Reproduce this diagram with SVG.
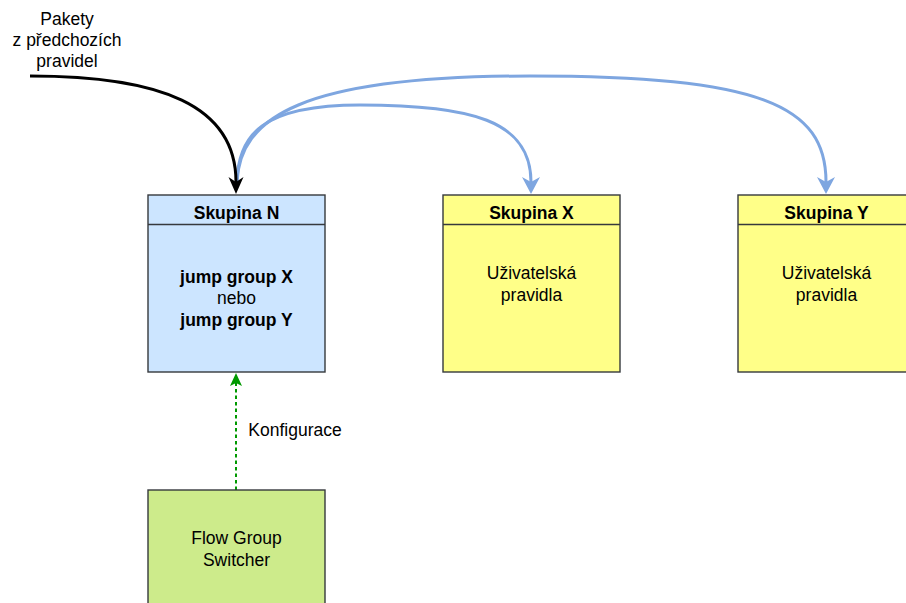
<svg xmlns="http://www.w3.org/2000/svg" width="906" height="603" viewBox="0 0 906 603">
  <style>
    text { font-family: "Liberation Sans", Arial, Helvetica, sans-serif; font-size: 17.5px; fill: #000; text-anchor: middle; dominant-baseline: central; }
    .b { font-weight: bold; }
    .box { stroke: #36393d; stroke-width: 1.4; }
    .blue { fill: #cce5ff; }
    .yellow { fill: #ffff88; }
    .green { fill: #cdeb8b; }
    .edge { fill: none; }
    .jump { stroke: #7ea6e0; stroke-width: 3; marker-end: url(#arrowBlue); }
  </style>
  <defs>
    <marker id="arrowBlack" markerUnits="userSpaceOnUse" markerWidth="20" markerHeight="20" viewBox="-6 -10 20 20" refX="0" refY="0" orient="auto" overflow="visible">
      <path d="M-5,-7.5 L12,0 L-5,7.5 L0,0 Z" fill="#000"/>
    </marker>
    <marker id="arrowBlue" markerUnits="userSpaceOnUse" markerWidth="20" markerHeight="22" viewBox="-6 -11 20 22" refX="0" refY="0" orient="auto" overflow="visible">
      <path d="M-5,-9 L12,0 L-5,9 L0,0 Z" fill="#7ea6e0"/>
    </marker>
    <marker id="arrowGreen" markerUnits="userSpaceOnUse" markerWidth="16" markerHeight="16" viewBox="-5 -8 16 16" refX="0" refY="0" orient="auto" overflow="visible">
      <path d="M-3,-6 L10,0 L-3,6 L0,0 Z" fill="#009900"/>
    </marker>
  </defs>

  <!-- connectors -->
  <g id="connectors" class="edge">
    <path class="jump" d="M237,182 C238,135 262,105 360,105 C470,105 531,120 531,182"/>
    <path class="jump" d="M237,182 C240,118 300,76 530,76 C760,76 826,105 826,182"/>
    <path d="M30,76 C160,76 236,105 236,182" stroke="#000" stroke-width="3" marker-end="url(#arrowBlack)"/>
    <path d="M236,490 L236,383" stroke="#009900" stroke-width="2" stroke-dasharray="3.5 3" marker-end="url(#arrowGreen)"/>
  </g>

  <!-- incoming packets label -->
  <g id="label-pakety">
    <text x="67" y="19">Pakety</text>
    <text x="67" y="40">z předchozích</text>
    <text x="67" y="61">pravidel</text>
  </g>

  <!-- group N -->
  <g id="skupina-n">
    <rect class="box blue" x="148" y="195" width="177" height="177"/>
    <line class="box" x1="148" y1="224.5" x2="325" y2="224.5"/>
    <text class="b" x="236.5" y="213">Skupina N</text>
    <text class="b" x="236.5" y="277">jump group X</text>
    <text x="236.5" y="298">nebo</text>
    <text class="b" x="236.5" y="320">jump group Y</text>
  </g>

  <!-- group X -->
  <g id="skupina-x">
    <rect class="box yellow" x="443" y="195" width="177" height="177"/>
    <line class="box" x1="443" y1="224.5" x2="620" y2="224.5"/>
    <text class="b" x="531.5" y="213">Skupina X</text>
    <text x="531.5" y="273">Uživatelská</text>
    <text x="531.5" y="295">pravidla</text>
  </g>

  <!-- group Y -->
  <g id="skupina-y">
    <rect class="box yellow" x="738" y="195" width="177" height="177"/>
    <line class="box" x1="738" y1="224.5" x2="915" y2="224.5"/>
    <text class="b" x="826.5" y="213">Skupina Y</text>
    <text x="826.5" y="273">Uživatelská</text>
    <text x="826.5" y="295">pravidla</text>
  </g>

  <!-- configuration label -->
  <g id="label-konfigurace">
    <text x="295" y="430">Konfigurace</text>
  </g>

  <!-- switcher -->
  <g id="flow-group-switcher">
    <rect class="box green" x="148" y="490" width="177" height="130"/>
    <text x="236.5" y="538">Flow Group</text>
    <text x="236.5" y="560">Switcher</text>
  </g>
</svg>
